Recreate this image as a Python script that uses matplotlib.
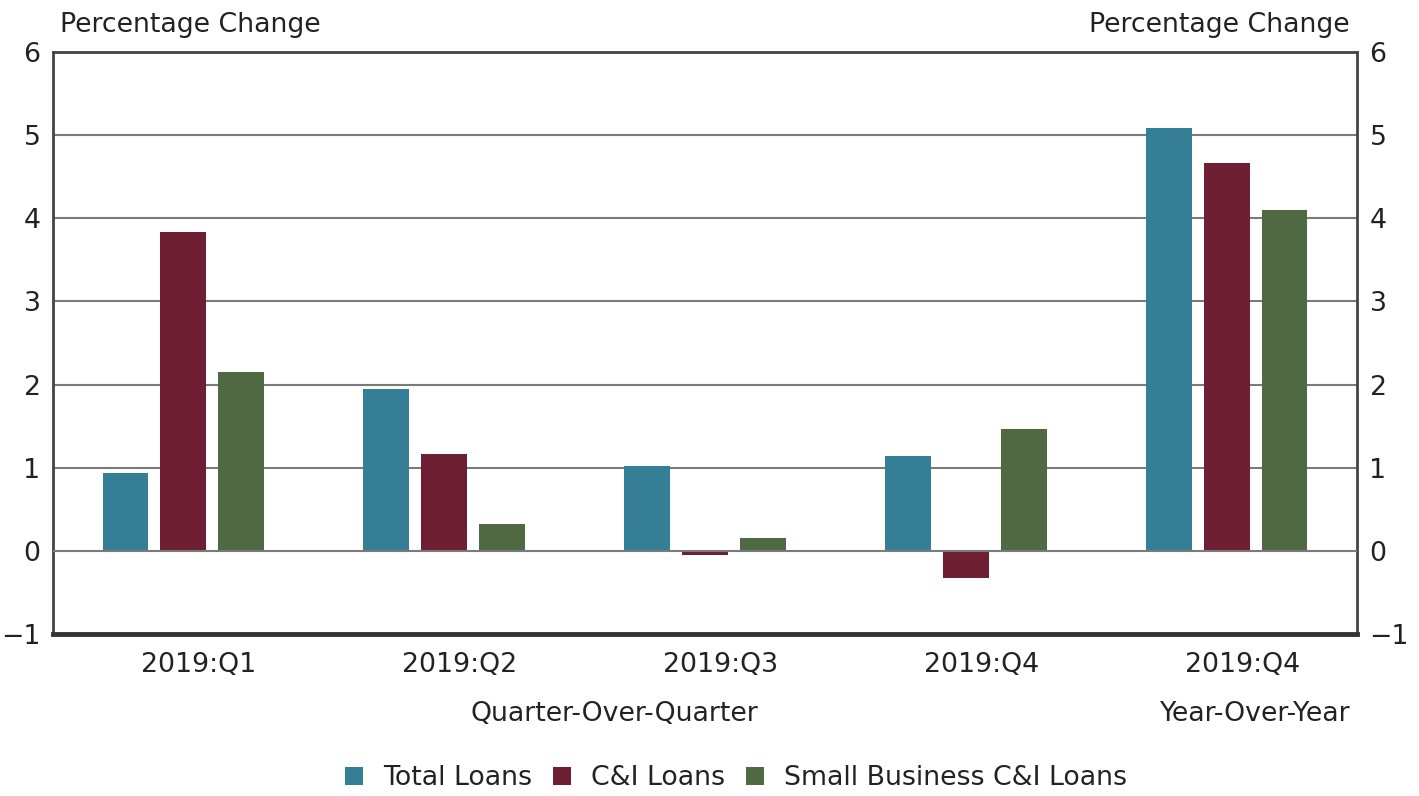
import matplotlib
matplotlib.use("Agg")
import matplotlib.pyplot as plt
import numpy as np

categories = ["2019:Q1", "2019:Q2", "2019:Q3", "2019:Q4", "2019:Q4"]
total_loans = [0.94, 1.95, 1.02, 1.14, 5.08]
ci_loans = [3.84, 1.17, -0.05, -0.33, 4.67]
small_ci_loans = [2.15, 0.32, 0.16, 1.47, 4.10]
series_names = ["Total Loans", "C&I Loans", "Small Business C&I Loans"]
colors = ["#347F95", "#6E1F33", "#4F6943"]
yticks = [-1, 0, 1, 2, 3, 4, 5, 6]

FS = 19.3
plt.rcParams['font.family'] = ['DejaVu Sans']
fig = plt.figure(figsize=(14.19, 7.96), dpi=100)
ax = fig.add_axes([53/1419, 1-634/796, (1357-53)/1419, (634-52)/796])

x = np.arange(len(categories))
w = 0.176
off = 0.222
for i, (vals, name, c) in enumerate(zip([total_loans, ci_loans, small_ci_loans], series_names, colors)):
    ax.bar(x + (i-1)*off, vals, width=w, color=c, label=name, zorder=2)

ax.set_xlim(-0.5, 4.5)
ax.set_ylim(-1, 6)
ax.set_yticks(yticks)
ax.set_yticklabels([("\u22121" if t < 0 else str(t)) for t in yticks])
for t in yticks[1:-1]:
    ax.axhline(t, color="#7a7a7a", lw=1.5, zorder=1 if t != 0 else 3)
ax.set_xticks(x + 0.06)
ax.set_xticklabels(categories)
ax.tick_params(axis='both', length=0, labelsize=FS, colors="#222222")
ax.tick_params(axis='y', pad=9, labelright=True, right=False)
ax.tick_params(axis='x', pad=13)
for s in ["left", "right", "top"]:
    ax.spines[s].set_color("#444444")
    ax.spines[s].set_linewidth(2)
ax.spines["bottom"].set_color("#333333")
ax.spines["bottom"].set_linewidth(3.5)

fig.text(60/1419, 1-25/796, "Percentage Change", fontsize=FS, color="#222222", ha="left", va="center")
fig.text(1350/1419, 1-25/796, "Percentage Change", fontsize=FS, color="#222222", ha="right", va="center")
fig.text(614/1419, 1-714/796, "Quarter-Over-Quarter", fontsize=FS, color="#222222", ha="center", va="center")
fig.text(1350/1419, 1-714/796, "Year-Over-Year", fontsize=FS, color="#222222", ha="right", va="center")

leg = fig.legend(loc="center", bbox_to_anchor=(736/1419, 1-778/796), ncol=3, frameon=False,
                 fontsize=FS, handlelength=0.65, handleheight=0.65, handletextpad=0.75, columnspacing=0.8)
for t in leg.get_texts():
    t.set_color("#222222")

fig.savefig("out.png", dpi=100)
